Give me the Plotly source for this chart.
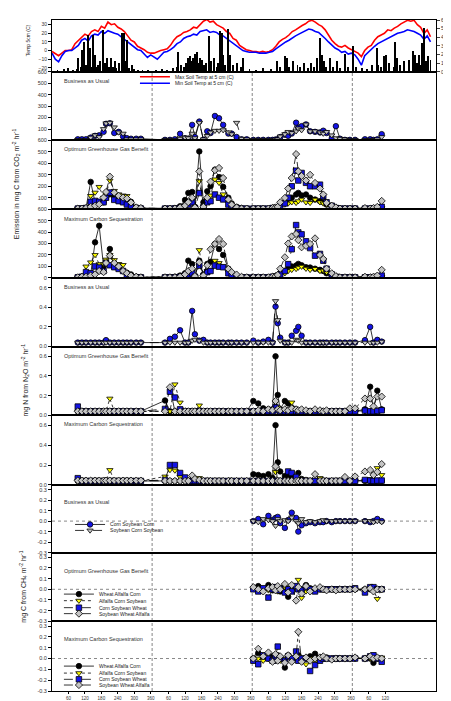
import plotly.graph_objects as go

FONT = "Arial, Liberation Sans, Helvetica, sans-serif"
BLUE = "#1414e6"
GRAY = "#c4c4c4"
YELLOW = "#ffff00"
BLACK = "#000000"

# ---------------- sampling dates (days since start of year 1) ----------------
D1 = [94, 109, 124, 141, 157, 172, 188, 197, 211, 227, 243, 259, 273, 288, 307, 324]
D2 = [412, 430, 448, 467, 485, 497, 511, 521, 537, 552, 566, 578, 594, 609, 624, 643, 655, 673, 691, 710]
D3 = [734, 752, 770, 789, 804, 815, 823, 832, 849, 861, 874, 890, 898, 910, 926, 941, 959, 977, 989, 1001,
      1020, 1035, 1050, 1068, 1086]
D4 = [1105, 1141, 1160, 1172, 1186, 1202]
DAYS = D1 + D2 + D3 + D4
CH4_DAYS = D3 + D4

# ---------------- soil temperature (every 12 days) and precipitation ----------------
T_DAY = list(range(0, 1381, 12))
T_MAX = ([-1, -4, -6, -3, 0, 0, 1, 8, 12, 16, 19, 17, 22, 24, 22, 28, 26, 33, 30, 31, 27, 25, 22, 17, 12, 10, 5, 3, 1, -2, -3]
         + [-3, -1, 0, 1, 2, 6, 12, 16, 18, 21, 22, 24, 27, 26, 30, 34, 36, 33, 34, 30, 28, 26, 22, 20, 14, 12, 6, 3, 1, 0]
         + [-1, -1, -2, -1, -2, -1, 1, 5, 10, 13, 15, 18, 22, 24, 27, 29, 31, 34, 35, 33, 30, 28, 24, 18, 12, 8, 5, 4, 6, 3, 1]
         + [-1, -3, -7, 0, 4, 6, 12, 16, 18, 20, 24, 23, 26, 28, 31, 33, 35, 34, 35, 30, 27, 20, 24, 16])
T_MIN = ([-3, -10, -13, -6, -1, 0, 0, 3, 6, 12, 14, 11, 17, 19, 18, 22, 20, 23, 21, 20, 19, 16, 14, 11, 7, 4, 1, 0, -4, -8, -5]
         + [-8, -10, -6, -2, -1, 1, 4, 8, 10, 14, 16, 17, 19, 18, 22, 23, 24, 21, 22, 21, 18, 17, 14, 11, 9, 5, 2, 0, -1, -2]
         + [-2, -2, -3, -3, -3, -2, -1, 2, 5, 8, 10, 12, 15, 17, 19, 21, 23, 25, 24, 22, 21, 18, 14, 10, 6, 3, 1, -2, -1, -4, -3]
         + [-5, -10, -17, -6, -2, 2, 5, 8, 10, 12, 14, 16, 18, 20, 21, 22, 24, 23, 22, 20, 18, 13, 17, 10])

RAIN_DAY = [20, 45, 60, 75, 90, 96, 105, 111, 118, 125, 132, 138, 145, 151, 158, 165, 169, 176, 187, 193, 200, 208, 215,
            222, 228, 235, 243, 254, 262, 268, 272, 280, 290, 300, 315, 330, 350,
            380, 400, 420, 440, 455, 461, 470, 480, 490, 497, 502, 508, 515, 521, 527, 533, 540, 548, 555, 562, 574,
            580, 590, 600, 606, 613, 619, 625, 632, 643, 648, 660, 675, 690, 697,
            720, 745, 770, 800, 819, 830, 850, 856, 865, 880, 895, 905, 920, 935, 945, 955, 965, 977, 983, 990, 1000,
            1013, 1025, 1040, 1050, 1068, 1080, 1098, 1110,
            1130, 1150, 1165, 1184, 1190, 1200, 1210, 1216, 1230, 1245, 1252, 1258, 1270, 1285, 1300, 1316, 1322, 1330,
            1338, 1345, 1350, 1357, 1365, 1372, 1380]
RAIN_MM = [2, 3, 4, 2, 3, 16, 6, 25, 35, 8, 43, 27, 5, 43, 20, 6, 8, 12, 49, 10, 16, 6, 16, 5, 12, 4, 10, 45, 45, 12, 37,
           4, 8, 3, 2, 2, 2,
           2, 3, 2, 4, 6, 23, 8, 5, 10, 16, 18, 12, 16, 21, 23, 10, 16, 14, 8, 10, 41, 12, 16, 6, 10, 47, 45, 20, 8,
           50, 20, 8, 10, 6, 16,
           3, 2, 4, 3, 12, 5, 18, 16, 6, 12, 8, 6, 10, 4, 10, 6, 16, 39, 20, 12, 5, 16, 5, 12, 4, 21, 6, 30, 6,
           4, 3, 8, 27, 8, 6, 18, 20, 10, 6, 35, 16, 8, 12, 14, 24, 20, 10, 20, 8, 33, 51, 12, 18, 14]

# ---------------- CO2 (mg C m-2 hr-1) ----------------
CO2_BAU_CSC = ([10, 10, 10, 25, 40, 45, 75, 145, 150, 65, 75, 35, 20, 15, 15, 15]
               + [5, 5, 10, 58, 20, 15, 136, 30, 165, 5, 80, 65, 214, 194, 136, 60, 60, 30, 10, 10]
               + [5, 5, 5, 5, 5, 8, 10, 30, 50, 40, 60, 155, 110, 125, 140, 80, 75, 70, 85, 65, 20, 125, 15, 5, 5]
               + [5, 10, 10, 5, 10, 55])
CO2_BAU_SCS = ([5, 5, 5, 25, 45, 30, 100, 150, 155, 115, 70, 60, 10, 10, 10, 10]
               + [5, 5, 5, 15, 25, 20, 60, 20, 155, 10, 40, 70, 85, 85, 90, 70, 55, 155, 15, 10]
               + [5, 5, 5, 5, 5, 8, 10, 35, 55, 75, 65, 80, 105, 90, 140, 80, 80, 70, 60, 75, 45, 20, 15, 10, 5]
               + [5, 5, 5, 5, 10, 30])
CO2_OGGB_WAC = ([5, 5, 10, 238, 60, 50, 60, 100, 130, 110, 90, 70, 60, 64, 15, 10]
                + [5, 5, 10, 25, 80, 142, 150, 20, 504, 60, 156, 200, 345, 280, 195, 100, 50, 20, 10, 5]
                + [5, 5, 5, 5, 10, 15, 20, 40, 60, 80, 100, 128, 142, 120, 128, 100, 84, 70, 60, 40, 20, 10, 5, 5, 5]
                + [5, 5, 5, 5, 5, 10])
CO2_OGGB_ACS = ([5, 5, 20, 116, 145, 195, 100, 130, 250, 160, 130, 120, 116, 40, 10, 5]
                + [5, 5, 5, 10, 30, 60, 80, 15, 245, 25, 80, 120, 260, 230, 130, 60, 25, 10, 5, 5]
                + [5, 5, 5, 5, 10, 15, 20, 30, 40, 50, 60, 55, 70, 84, 60, 55, 84, 60, 50, 40, 20, 10, 5, 5, 5]
                + [5, 5, 5, 5, 5, 10])
CO2_OGGB_CSW = ([5, 5, 10, 64, 72, 64, 60, 100, 145, 81, 70, 60, 40, 20, 10, 5]
                + [5, 5, 5, 10, 20, 40, 60, 10, 140, 15, 60, 70, 128, 100, 85, 40, 20, 10, 5, 5]
                + [5, 5, 5, 5, 10, 12, 15, 30, 50, 100, 200, 336, 250, 316, 230, 200, 200, 214, 113, 60, 30, 10, 5, 5, 5]
                + [5, 5, 5, 5, 10, 20])
CO2_OGGB_SWA = ([5, 5, 10, 20, 30, 43, 101, 150, 284, 145, 116, 101, 93, 58, 15, 10]
                + [5, 5, 5, 15, 30, 60, 100, 15, 330, 20, 100, 240, 340, 360, 272, 85, 40, 15, 5, 5]
                + [5, 5, 5, 5, 10, 15, 20, 60, 98, 180, 272, 481, 330, 290, 250, 300, 229, 180, 128, 55, 30, 15, 5, 5, 5]
                + [5, 10, 5, 10, 20, 72])
CO2_MCS_WAC = ([5, 10, 15, 30, 310, 455, 100, 140, 252, 130, 100, 60, 45, 30, 10, 5]
               + [5, 5, 10, 20, 40, 150, 120, 15, 150, 30, 122, 140, 296, 252, 200, 80, 40, 15, 5, 5]
               + [5, 5, 5, 5, 10, 15, 20, 40, 60, 80, 100, 107, 122, 110, 93, 90, 80, 70, 60, 40, 20, 10, 5, 5, 5]
               + [5, 5, 5, 5, 5, 10])
CO2_MCS_ACS = ([5, 10, 100, 136, 200, 120, 120, 160, 200, 156, 122, 113, 30, 10, 5, 5]
               + [5, 5, 5, 10, 30, 50, 60, 10, 243, 20, 60, 70, 150, 130, 100, 50, 20, 10, 5, 5]
               + [5, 5, 5, 5, 10, 15, 20, 30, 40, 60, 70, 78, 90, 98, 80, 70, 78, 60, 64, 50, 20, 10, 5, 5, 5]
               + [5, 5, 5, 5, 5, 10])
CO2_MCS_CSW = ([5, 10, 50, 40, 100, 90, 60, 130, 110, 93, 78, 60, 20, 10, 5, 5]
               + [5, 5, 5, 10, 20, 30, 40, 10, 107, 15, 50, 60, 107, 98, 93, 40, 15, 5, 5, 5]
               + [5, 5, 5, 5, 10, 12, 15, 30, 60, 120, 250, 461, 397, 380, 319, 260, 194, 209, 150, 80, 30, 10, 5, 5, 5]
               + [5, 5, 5, 5, 10, 20])
CO2_MCS_SWA = ([5, 10, 10, 20, 30, 60, 50, 130, 194, 130, 100, 60, 40, 20, 10, 5]
               + [5, 5, 5, 10, 30, 60, 80, 15, 136, 20, 110, 250, 296, 339, 296, 78, 50, 29, 10, 5]
               + [5, 5, 5, 5, 10, 15, 25, 80, 180, 300, 362, 383, 330, 267, 280, 296, 345, 200, 165, 80, 40, 15, 5, 5, 5]
               + [5, 10, 5, 10, 20, 70])

# ---------------- N2O (mg N m-2 hr-1) ----------------
N2O_BAU_CSC = ([0.04, 0.04, 0.04, 0.04, 0.04, 0.04, 0.04, 0.065, 0.04, 0.04, 0.04, 0.04, 0.04, 0.04, 0.04, 0.04]
               + [0.04, 0.078, 0.1, 0.166, 0.04, 0.04, 0.363, 0.125, 0.06, 0.068, 0.04, 0.04, 0.04, 0.04, 0.04, 0.04,
                  0.04, 0.04, 0.04, 0.04]
               + [0.06, 0.04, 0.05, 0.068, 0.04, 0.407, 0.237, 0.09, 0.04, 0.04, 0.11, 0.16, 0.2, 0.11, 0.04, 0.04,
                  0.04, 0.04, 0.04, 0.04, 0.04, 0.04, 0.04, 0.04, 0.04]
               + [0.04, 0.065, 0.2, 0.04, 0.068, 0.05])
N2O_BAU_SCS = ([0.04, 0.04, 0.04, 0.04, 0.04, 0.04, 0.04, 0.04, 0.04, 0.04, 0.04, 0.04, 0.04, 0.04, 0.04, 0.04]
               + [0.04, 0.04, 0.04, 0.04, 0.04, 0.04, 0.06, 0.07, 0.06, 0.04, 0.04, 0.04, 0.04, 0.04, 0.04, 0.04,
                  0.04, 0.04, 0.04, 0.04]
               + [0.04, 0.04, 0.04, 0.04, 0.04, 0.464, 0.27, 0.06, 0.04, 0.04, 0.04, 0.07, 0.06, 0.04, 0.04, 0.04,
                  0.04, 0.04, 0.04, 0.04, 0.04, 0.04, 0.04, 0.04, 0.04]
               + [0.04, 0.04, 0.04, 0.04, 0.04, 0.05])
N2O_OGGB_WAC = ([0.04, 0.04, 0.04, 0.04, 0.04, 0.04, 0.04, 0.04, 0.04, 0.04, 0.04, 0.04, 0.04, 0.04, 0.04, 0.04]
                + [0.15, 0.04, 0.04, 0.04, 0.04, 0.04, 0.04, 0.04, 0.04, 0.04, 0.04, 0.04, 0.04, 0.04, 0.04, 0.04,
                   0.04, 0.04, 0.04, 0.04]
                + [0.145, 0.12, 0.07, 0.06, 0.06, 0.6, 0.207, 0.06, 0.145, 0.12, 0.07, 0.06, 0.05, 0.04, 0.04, 0.04,
                   0.04, 0.04, 0.04, 0.04, 0.04, 0.04, 0.04, 0.04, 0.04]
                + [0.04, 0.06, 0.29, 0.06, 0.25, 0.06])
N2O_OGGB_ACS = ([0.04, 0.04, 0.04, 0.04, 0.04, 0.04, 0.04, 0.04, 0.17, 0.04, 0.04, 0.04, 0.04, 0.04, 0.04, 0.04]
                + [0.04, 0.04, 0.315, 0.13, 0.04, 0.04, 0.04, 0.04, 0.1, 0.04, 0.04, 0.04, 0.04, 0.04, 0.04, 0.04,
                   0.04, 0.04, 0.04, 0.04]
                + [0.04, 0.04, 0.04, 0.04, 0.04, 0.13, 0.08, 0.04, 0.04, 0.04, 0.13, 0.06, 0.04, 0.04, 0.04, 0.04,
                   0.04, 0.04, 0.04, 0.04, 0.04, 0.04, 0.04, 0.04, 0.04]
                + [0.04, 0.04, 0.04, 0.04, 0.06, 0.05])
N2O_OGGB_CSW = ([0.088, 0.04, 0.04, 0.04, 0.04, 0.04, 0.04, 0.04, 0.04, 0.04, 0.04, 0.04, 0.04, 0.04, 0.04, 0.04]
                + [0.064, 0.24, 0.18, 0.06, 0.04, 0.04, 0.04, 0.04, 0.04, 0.04, 0.04, 0.04, 0.04, 0.04, 0.04, 0.04,
                   0.04, 0.04, 0.04, 0.04]
                + [0.04, 0.04, 0.04, 0.04, 0.04, 0.08, 0.05, 0.04, 0.04, 0.04, 0.04, 0.04, 0.04, 0.04, 0.04, 0.04,
                   0.04, 0.04, 0.04, 0.04, 0.04, 0.04, 0.04, 0.04, 0.04]
                + [0.04, 0.047, 0.04, 0.04, 0.044, 0.05])
N2O_OGGB_SWA = ([0.04, 0.04, 0.04, 0.04, 0.04, 0.04, 0.04, 0.04, 0.04, 0.04, 0.04, 0.04, 0.04, 0.04, 0.04, 0.04]
                + [0.04, 0.285, 0.04, 0.04, 0.04, 0.04, 0.04, 0.04, 0.04, 0.04, 0.04, 0.04, 0.04, 0.04, 0.04, 0.04,
                   0.04, 0.04, 0.04, 0.04]
                + [0.04, 0.05, 0.04, 0.06, 0.05, 0.145, 0.06, 0.05, 0.06, 0.05, 0.07, 0.06, 0.05, 0.06, 0.05, 0.04,
                   0.06, 0.05, 0.04, 0.05, 0.04, 0.04, 0.04, 0.04, 0.07]
                + [0.07, 0.17, 0.17, 0.09, 0.19, 0.19])
N2O_MCS_WAC = ([0.04, 0.04, 0.04, 0.04, 0.04, 0.04, 0.04, 0.04, 0.04, 0.04, 0.04, 0.04, 0.04, 0.04, 0.04, 0.04]
               + [0.04, 0.04, 0.04, 0.04, 0.04, 0.04, 0.04, 0.04, 0.04, 0.04, 0.04, 0.04, 0.04, 0.04, 0.04, 0.04,
                  0.04, 0.04, 0.04, 0.04]
               + [0.108, 0.1, 0.09, 0.108, 0.07, 0.6, 0.227, 0.135, 0.09, 0.08, 0.07, 0.06, 0.12, 0.06, 0.05, 0.04,
                  0.04, 0.04, 0.04, 0.04, 0.04, 0.04, 0.04, 0.04, 0.04]
               + [0.04, 0.04, 0.04, 0.04, 0.04, 0.04])
N2O_MCS_ACS = ([0.04, 0.04, 0.04, 0.04, 0.04, 0.04, 0.04, 0.04, 0.15, 0.04, 0.04, 0.04, 0.04, 0.04, 0.04, 0.04]
               + [0.085, 0.15, 0.145, 0.08, 0.04, 0.04, 0.04, 0.04, 0.07, 0.04, 0.04, 0.04, 0.04, 0.04, 0.04, 0.04,
                  0.04, 0.04, 0.04, 0.04]
               + [0.04, 0.04, 0.04, 0.04, 0.04, 0.13, 0.04, 0.04, 0.04, 0.04, 0.04, 0.04, 0.04, 0.04, 0.04, 0.04,
                  0.04, 0.07, 0.04, 0.04, 0.04, 0.04, 0.04, 0.04, 0.04]
               + [0.04, 0.04, 0.06, 0.04, 0.17, 0.1])
N2O_MCS_CSW = ([0.068, 0.04, 0.04, 0.04, 0.04, 0.04, 0.04, 0.04, 0.04, 0.04, 0.04, 0.04, 0.04, 0.04, 0.04, 0.04]
               + [0.05, 0.2, 0.2, 0.12, 0.075, 0.04, 0.04, 0.04, 0.04, 0.04, 0.04, 0.04, 0.04, 0.04, 0.04, 0.04,
                  0.04, 0.04, 0.04, 0.04]
               + [0.04, 0.04, 0.04, 0.04, 0.04, 0.04, 0.04, 0.04, 0.04, 0.135, 0.12, 0.08, 0.04, 0.04, 0.04, 0.04,
                  0.04, 0.04, 0.04, 0.04, 0.04, 0.04, 0.04, 0.04, 0.04]
               + [0.04, 0.05, 0.044, 0.04, 0.044, 0.044])
N2O_MCS_SWA = ([0.044, 0.044, 0.044, 0.044, 0.044, 0.044, 0.044, 0.044, 0.044, 0.044, 0.044, 0.044, 0.044, 0.044,
                0.044, 0.044]
               + [0.04, 0.04, 0.04, 0.04, 0.04, 0.04, 0.095, 0.06, 0.05, 0.04, 0.04, 0.04, 0.04, 0.04, 0.04, 0.04,
                  0.04, 0.04, 0.04, 0.04]
               + [0.04, 0.04, 0.04, 0.04, 0.04, 0.186, 0.04, 0.04, 0.04, 0.04, 0.04, 0.04, 0.04, 0.04, 0.04, 0.04,
                  0.108, 0.04, 0.04, 0.04, 0.04, 0.04, 0.04, 0.08, 0.04]
               + [0.085, 0.135, 0.15, 0.1, 0.13, 0.21])

# ---------------- CH4 (mg C m-2 hr-1), years 3-4 only ----------------
CH4_BAU_CSC = ([0.0, 0.02, -0.03, 0.05, 0.01, 0.03, 0.04, -0.02, -0.065, 0.01, 0.08, 0.03, -0.1, -0.04, -0.02, -0.01,
                -0.02, -0.01, -0.01, 0.0, -0.01, 0.0, 0.0, 0.0, 0.0]
               + [0.0, 0.0, -0.01, 0.0, 0.02, 0.0])
CH4_BAU_SCS = ([0.0, -0.01, 0.02, 0.01, 0.0, -0.045, 0.02, 0.0, 0.01, 0.0, 0.035, 0.0, -0.02, 0.02, -0.01, 0.0,
                -0.01, 0.0, 0.01, 0.0, 0.0, 0.0, 0.0, 0.0, 0.0]
               + [0.0, 0.0, 0.0, -0.01, 0.0, -0.01])
CH4_OGGB_WAC = ([0.01, 0.03, 0.0, 0.04, -0.01, 0.02, 0.0, -0.02, 0.01, -0.07, 0.01, 0.02, 0.01, 0.0, 0.04, 0.01,
                 -0.01, 0.0, 0.0, 0.0, 0.0, 0.0, 0.0, 0.0, 0.0]
                + [0.0, 0.0, 0.0, 0.0, 0.0, 0.0])
CH4_OGGB_ACS = ([0.0, 0.01, 0.0, -0.01, 0.0, 0.01, -0.02, 0.0, 0.02, 0.0, 0.01, 0.0, 0.09, -0.08, -0.02, 0.0,
                 0.01, 0.0, 0.0, 0.0, 0.0, 0.0, 0.0, 0.0, 0.0]
                + [0.0, 0.0, 0.0, 0.0, -0.09, 0.0])
CH4_OGGB_CSW = ([0.0, -0.02, 0.01, -0.078, 0.0, 0.02, -0.01, 0.01, -0.03, 0.0, -0.02, 0.03, 0.0, -0.01, 0.02, 0.0,
                 -0.02, 0.0, 0.0, 0.0, 0.0, 0.0, 0.0, 0.0, 0.0]
                + [0.01, -0.03, 0.02, 0.02, 0.0, 0.0])
CH4_OGGB_SWA = ([0.02, 0.0, -0.02, 0.01, 0.02, -0.01, 0.03, 0.0, 0.05, -0.03, 0.04, -0.106, 0.02, -0.04, 0.03,
                 -0.02, 0.01, 0.02, 0.0, -0.01, 0.0, -0.01, 0.0, 0.0, 0.0]
                + [0.0, 0.0, 0.01, -0.02, 0.0, 0.0])
CH4_MCS_WAC = ([0.0, 0.05, 0.01, 0.0, 0.02, -0.02, 0.03, 0.01, -0.084, 0.03, 0.0, 0.01, 0.03, 0.0, 0.0, 0.02,
                0.044, 0.01, 0.0, 0.01, 0.0, 0.0, 0.0, 0.0, 0.0]
               + [0.0, 0.0, 0.0, -0.04, 0.0, 0.0])
CH4_MCS_ACS = ([0.0, 0.0, -0.02, 0.01, 0.0, 0.01, 0.0, -0.02, 0.0, 0.02, 0.0, 0.0, 0.02, -0.01, -0.053, 0.0,
                -0.03, 0.01, 0.0, 0.0, 0.0, 0.0, 0.0, 0.0, 0.0]
               + [0.0, 0.0, 0.0, 0.0, 0.0, 0.01])
CH4_MCS_CSW = ([-0.02, -0.053, 0.03, 0.0, -0.02, 0.02, 0.11, 0.0, -0.02, 0.02, 0.0, 0.065, -0.02, 0.0, 0.0,
                -0.115, -0.06, -0.02, 0.0, 0.0, 0.0, 0.0, 0.0, 0.0, 0.0]
               + [0.0, 0.0, 0.02, 0.03, 0.0, -0.03])
CH4_MCS_SWA = ([0.0, 0.09, 0.02, 0.056, -0.03, 0.04, -0.02, 0.02, -0.04, 0.03, -0.03, 0.02, 0.247, -0.03, 0.01,
                -0.02, 0.0, 0.01, 0.02, 0.0, -0.01, 0.0, 0.0, 0.0, 0.0]
               + [0.01, 0.0, 0.02, 0.0, 0.01, 0.0])

# ---------------- axis ticks ----------------
TICK_DOY = [60, 120, 180, 240, 300, 360]
X_TICKVALS = [y * 365 + d for y in range(3) for d in TICK_DOY] + [1095 + 60, 1095 + 120]
X_TICKTEXT = [str(d) for y in range(3) for d in TICK_DOY] + ["60", "120"]
YEAR_BREAKS = [365, 730, 1095]

# ---------------- styles ----------------
STYLES = {
    'CSC': ('Corn Soybean Corn', 'circle', BLUE, 'solid'),
    'SCS': ('Soybean Corn Soybean', 'triangle-down', GRAY, 'dash'),
    'WAC': ('Wheat Alfalfa Corn', 'circle', BLACK, 'solid'),
    'ACS': ('Alfalfa Corn Soybean', 'triangle-down', YELLOW, 'dot'),
    'CSW': ('Corn Soybean Wheat', 'square', BLUE, 'dash'),
    'SWA': ('Soybean Wheat Alfalfa', 'diamond', GRAY, 'dashdot'),
}

DOMAINS = [(0.9228, 1.0), (0.8205, 0.9228), (0.7181, 0.8205), (0.6157, 0.7181), (0.5134, 0.6157),
           (0.4110, 0.5134), (0.3071, 0.4110), (0.2062, 0.3071), (0.1039, 0.2062), (0.0, 0.1039)]


def axn(prefix, i):
    return prefix if i == 1 else f"{prefix}{i}"


fig = go.Figure()

# temperature lines
fig.add_trace(go.Scatter(x=T_DAY, y=T_MAX, mode='lines', name='Max Soil Temp at 5 cm (C)',
                         line=dict(color='#ff0000', width=1.6), xaxis='x', yaxis='y', legend='legend'))
fig.add_trace(go.Scatter(x=T_DAY, y=T_MIN, mode='lines', name='Min Soil Temp at 5 cm (C)',
                         line=dict(color='#0000ff', width=1.6), xaxis='x', yaxis='y', legend='legend2'))
fig.add_trace(go.Bar(x=RAIN_DAY, y=RAIN_MM, width=3.5, marker=dict(color='black', line=dict(width=0)),
                     xaxis='x', yaxis='y11', showlegend=False))

PANELS = [
    (2, DAYS, [('CSC', CO2_BAU_CSC), ('SCS', CO2_BAU_SCS)], None),
    (3, DAYS, [('WAC', CO2_OGGB_WAC), ('ACS', CO2_OGGB_ACS), ('CSW', CO2_OGGB_CSW), ('SWA', CO2_OGGB_SWA)], None),
    (4, DAYS, [('WAC', CO2_MCS_WAC), ('ACS', CO2_MCS_ACS), ('CSW', CO2_MCS_CSW), ('SWA', CO2_MCS_SWA)], None),
    (5, DAYS, [('CSC', N2O_BAU_CSC), ('SCS', N2O_BAU_SCS)], None),
    (6, DAYS, [('WAC', N2O_OGGB_WAC), ('ACS', N2O_OGGB_ACS), ('CSW', N2O_OGGB_CSW), ('SWA', N2O_OGGB_SWA)], None),
    (7, DAYS, [('WAC', N2O_MCS_WAC), ('ACS', N2O_MCS_ACS), ('CSW', N2O_MCS_CSW), ('SWA', N2O_MCS_SWA)], None),
    (8, CH4_DAYS, [('CSC', CH4_BAU_CSC), ('SCS', CH4_BAU_SCS)], ['legend3', 'legend4']),
    (9, CH4_DAYS, [('WAC', CH4_OGGB_WAC), ('ACS', CH4_OGGB_ACS), ('CSW', CH4_OGGB_CSW), ('SWA', CH4_OGGB_SWA)],
     ['legend5', 'legend6', 'legend7', 'legend8']),
    (10, CH4_DAYS, [('WAC', CH4_MCS_WAC), ('ACS', CH4_MCS_ACS), ('CSW', CH4_MCS_CSW), ('SWA', CH4_MCS_SWA)],
     ['legend9', 'legend10', 'legend11', 'legend12']),
]

for row, xs, series, legs in PANELS:
    for k, (key, vals) in enumerate(series):
        name, sym, col, dash = STYLES[key]
        fig.add_trace(go.Scatter(
            x=xs, y=vals, mode='lines+markers', name=name,
            line=dict(color='black', width=0.8, dash=dash),
            marker=dict(symbol=sym, size=5.5, color=col, line=dict(color='black', width=0.8)),
            xaxis=axn('x', row), yaxis=axn('y', row),
            showlegend=legs is not None, legend=(legs[k] if legs else 'legend')))

TICKFONT = dict(size=5.5, color='#333333', family=FONT)
# the page body has an 8 px default margin, so the figure is 8 px smaller than the window
layout = dict(
    width=443, height=693, template='none',
    margin=dict(l=44, r=15, t=12, b=10, autoexpand=False),
    paper_bgcolor='white', plot_bgcolor='rgba(0,0,0,0)',
    font=dict(family=FONT, size=6, color='#222222'),
    bargap=0,
)

Y_RANGES = {1: [-24.6, 35.4], 2: [0, 600], 3: [0, 600], 4: [0, 600], 5: [0, 0.7], 6: [0, 0.7], 7: [0, 0.7],
            8: [-0.3, 0.344], 9: [-0.3, 0.344], 10: [-0.3, 0.344]}
CO2_TICKS = [100, 200, 300, 400, 500, 600]
N2O_TICKS = [0, 0.2, 0.4, 0.6]
CH4_TICKS = [-0.3, -0.2, -0.1, 0, 0.1, 0.2, 0.3]

for i in range(1, 11):
    xa = dict(domain=[0, 1], anchor=axn('y', i), range=[0, 1400], showline=True, mirror=True,
              linecolor='black', linewidth=1.3, showgrid=False, zeroline=False, showticklabels=False,
              ticks='', automargin=False)
    if i > 1:
        xa['matches'] = 'x'
    if i == 10:
        xa.update(ticks='outside', ticklen=2, tickwidth=0.8, tickcolor='black', tickvals=X_TICKVALS,
                  ticktext=X_TICKTEXT, showticklabels=True, tickfont=dict(size=4.5, color='#333333', family=FONT))
    layout[axn('xaxis', i)] = xa

    ya = dict(domain=list(DOMAINS[i - 1]), anchor=axn('x', i), range=Y_RANGES[i], showline=True, mirror=True,
              linecolor='black', linewidth=1, showgrid=False, zeroline=False, ticks='outside', ticklen=3,
              tickwidth=0.8, tickcolor='black', tickfont=TICKFONT, automargin=False)
    if i == 1:
        ya.update(mirror=False, tickvals=[-20, -10, 0, 10, 20, 30], tickfont=dict(size=5, color='#333333', family=FONT))
    elif i in (2, 3):
        ya.update(tickvals=CO2_TICKS)
    elif i == 4:
        ya.update(tickvals=[0] + CO2_TICKS)
    elif i in (5, 6, 7):
        ya.update(tickvals=N2O_TICKS, ticktext=['%.1f' % v for v in N2O_TICKS])
    else:
        ya.update(tickvals=CH4_TICKS, ticktext=['%.1f' % v for v in CH4_TICKS])
    layout[axn('yaxis', i)] = ya

layout['yaxis11'] = dict(overlaying='y', side='right', anchor='x', range=[0, 60], showline=True,
                         linecolor='black', linewidth=1, showgrid=False, zeroline=False, ticks='outside',
                         ticklen=3, tickwidth=0.8, tickvals=[0, 10, 20, 30, 40, 50, 60],
                         tickfont=dict(size=5, color='#333333', family=FONT), automargin=False)


def leg(x, y):
    return dict(x=x, y=y, xanchor='left', yanchor='middle', bgcolor='rgba(0,0,0,0)', borderwidth=0,
                font=dict(size=5, family=FONT, color='#222222'), itemwidth=30, tracegroupgap=0,
                itemclick=False, itemdoubleclick=False)


layout['legend'] = leg(0.216, 0.9154)
layout['legend2'] = leg(0.216, 0.9058)
layout['legend3'] = leg(0.047, 0.2482)
layout['legend4'] = leg(0.047, 0.2393)
for j, yv in enumerate([0.1444, 0.1346, 0.1242, 0.1153]):
    layout[f'legend{5 + j}'] = leg(0.018, yv)
for j, yv in enumerate([0.0371, 0.0267, 0.0174, 0.0089]):
    layout[f'legend{9 + j}'] = leg(0.018, yv)

shapes = []
for xb in YEAR_BREAKS:
    shapes.append(dict(type='line', xref='x', yref='paper', x0=xb, x1=xb, y0=0, y1=0.9228,
                       line=dict(color='#777777', width=0.9, dash='3px,2px'), layer='below'))
for r in (8, 9, 10):
    shapes.append(dict(type='line', xref='paper', yref=axn('y', r), x0=0, x1=1, y0=0, y1=0,
                       line=dict(color='#888888', width=1, dash='dot'), layer='below'))
layout['shapes'] = shapes

annotations = []
PANEL_LABELS = [
    ('Business as Usual', 0.9095), ('Optimum Greenhouse Gas Benefit', 0.8071), ('Maximum Carbon Sequestration', 0.7033),
    ('Business as Usual', 0.6024), ('Optimum Greenhouse Gas Benefit', 0.5000), ('Maximum Carbon Sequestration', 0.3976),
    ('Business as Usual', 0.2819), ('Optimum Greenhouse Gas Benefit', 0.1795), ('Maximum Carbon Sequestration', 0.0772),
]
for txt, yv in PANEL_LABELS:
    annotations.append(dict(text=txt, xref='paper', yref='paper', x=0.026, y=yv, xanchor='left', yanchor='middle',
                            showarrow=False, font=dict(size=5.5, color='#333333', family=FONT)))

AXIS_TITLES = [
    ('Temp 5cm (C)', -0.0625, 0.970, 5),
    ('Emission in mg C from CO<sub>2</sub> m<sup>-2</sup> hr<sup>-1</sup>', -0.094, 0.7567, 7),
    ('mg N from N<sub>2</sub>O m<sup>-2</sup> hr<sup>-1</sup>', -0.070, 0.4629, 7),
    ('mg C from CH<sub>4</sub> m<sup>-2</sup> hr<sup>-1</sup>', -0.075, 0.1558, 7),
]
for txt, xv, yv, sz in AXIS_TITLES:
    annotations.append(dict(text=txt, xref='paper', yref='paper', x=xv, y=yv, xanchor='center', yanchor='middle',
                            textangle=-90, showarrow=False, font=dict(size=sz, color='#222222', family=FONT)))
layout['annotations'] = annotations

fig.update_layout(**layout)
fig.write_html("out.html")
